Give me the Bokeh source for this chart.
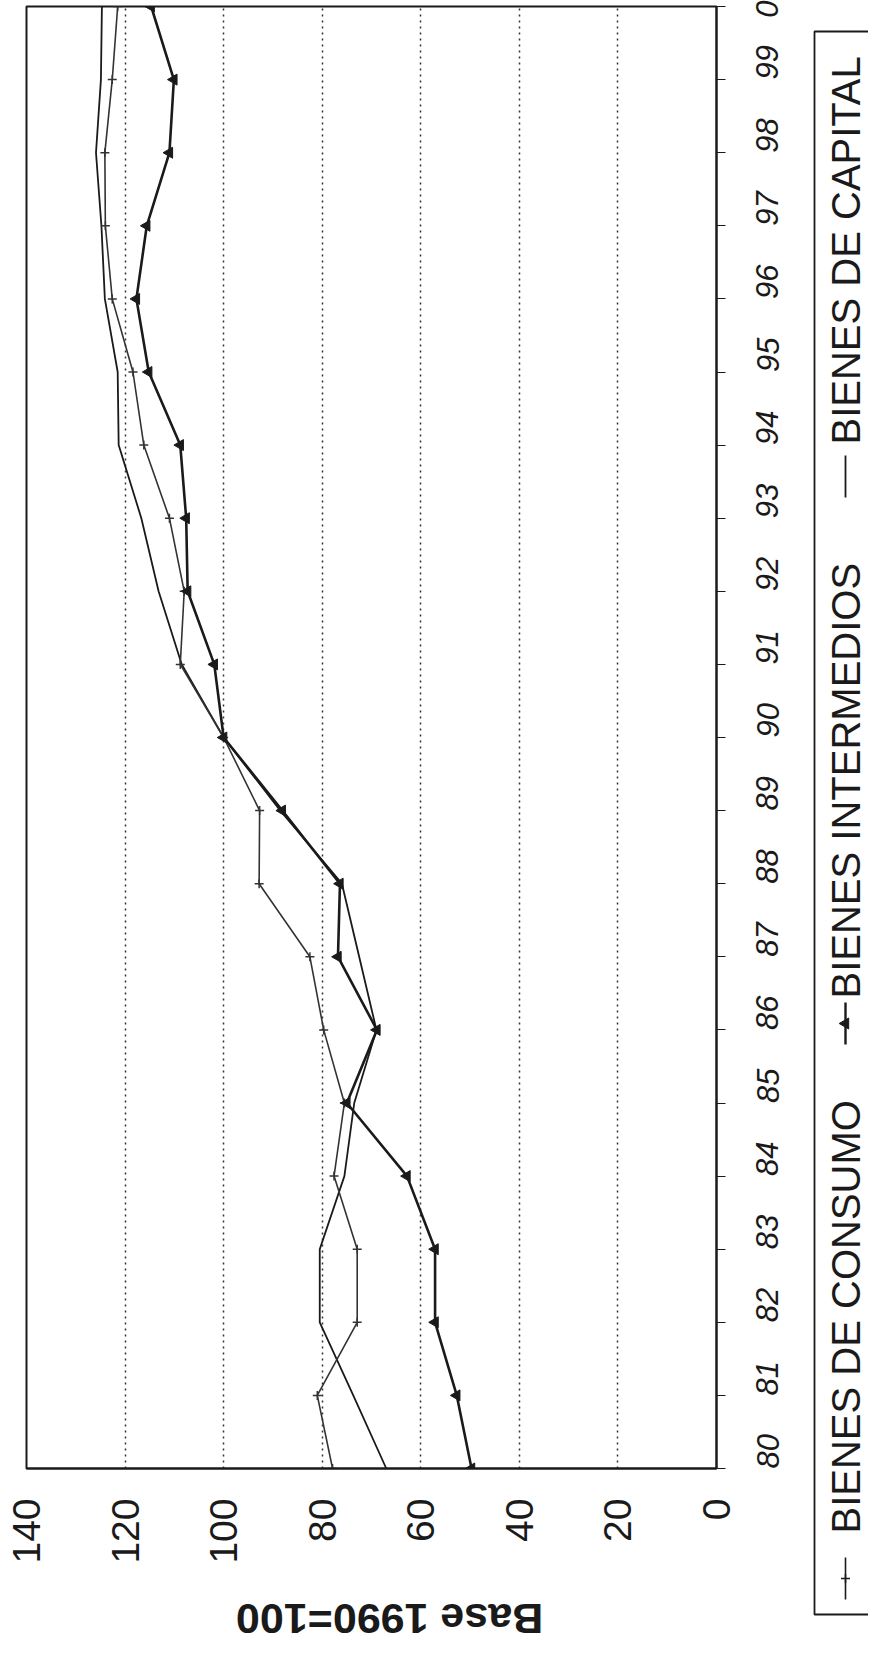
import math
from bokeh.plotting import figure
from bokeh.models import Range1d, FixedTicker, LinearAxis, ColumnDataSource
from bokeh.layouts import row
from bokeh.embed import file_html
from bokeh.resources import INLINE
from bokeh.core.properties import value

# ---- data ----
years = list(range(1980, 2001))
year_labels = ["80", "81", "82", "83", "84", "85", "86", "87", "88", "89",
               "90", "91", "92", "93", "94", "95", "96", "97", "98", "99", "0"]
consumo = [77.9, 81.0, 72.9, 72.9, 77.6, 75.5, 79.7, 82.5, 92.8, 92.7, 100.0,
           108.8, 108.0, 111.0, 116.2, 118.4, 122.6, 124.0, 124.1, 122.6, 121.5]
intermedios = [49.7, 52.7, 57.1, 57.1, 62.8, 75.0, 68.9, 76.8, 76.4, 88.1, 100.0,
               101.9, 107.3, 107.6, 108.8, 115.2, 117.7, 115.6, 111.0, 110.1, 114.7]
capital = [67.0, 73.7, 80.5, 80.5, 75.5, 73.5, 69.0, 72.5, 76.0, 88.5, 100.0,
           108.5, 113.2, 116.7, 121.3, 121.5, 124.1, 124.8, 125.9, 124.9, 124.7]
value_ticks = [0, 20, 40, 60, 80, 100, 120, 140]
series_names = ["BIENES DE CONSUMO", "BIENES INTERMEDIOS", "BIENES DE CAPITAL"]
axis_title = "Base 1990=100"

FONT = "Liberation Sans"
INK = "#1a1a1a"

src = ColumnDataSource(dict(year=years, consumo=consumo,
                            intermedios=intermedios, capital=capital))

p = figure(frame_width=690, frame_height=1462,
           x_range=Range1d(140, 0), y_range=Range1d(1980, 2000),
           y_axis_location="right", output_backend="svg", toolbar_location=None,
           min_border_left=26, min_border_right=84,
           min_border_top=6, min_border_bottom=170)
p.background_fill_color = "white"
p.border_fill_color = "white"
p.outline_line_color = INK
p.outline_line_width = 2

# value axis (bottom)
p.xaxis.ticker = FixedTicker(ticks=value_ticks)
p.xaxis.major_label_orientation = math.pi / 2
p.xaxis.major_label_text_font = FONT
p.xaxis.major_label_text_font_size = "39px"
p.xaxis.major_label_text_color = INK
p.xaxis.major_label_standoff = 30
p.xaxis.major_tick_out = 0
p.xaxis.major_tick_in = 0
p.xaxis.minor_tick_out = 0
p.xaxis.minor_tick_in = 0
p.xaxis.axis_line_width = 2
p.xaxis.axis_line_color = INK

# axis title, drawn upside down as in the scan
p.extra_x_ranges = {"title": Range1d(140, 0)}
title_at = 97.5
tax = LinearAxis(x_range_name="title", ticker=FixedTicker(ticks=[title_at]),
                 major_label_overrides={title_at: axis_title},
                 major_label_orientation=math.pi,
                 major_label_text_font=FONT,
                 major_label_text_font_size="43px",
                 major_label_text_font_style="bold",
                 major_label_text_color=INK,
                 major_label_standoff=46,
                 axis_line_color=None, major_tick_line_color=None,
                 minor_tick_line_color=None)
p.add_layout(tax, "below")

# year axis (right)
p.yaxis.ticker = FixedTicker(ticks=years)
p.yaxis.major_label_overrides = {y: lab for y, lab in zip(years, year_labels)}
p.yaxis.major_label_orientation = math.pi / 2
p.yaxis.major_label_text_font = FONT
p.yaxis.major_label_text_font_style = "italic"
p.yaxis.major_label_text_font_size = "31px"
p.yaxis.major_label_text_color = INK
p.yaxis.major_label_standoff = 42
p.yaxis.major_tick_out = 9
p.yaxis.major_tick_in = 0
p.yaxis.minor_tick_out = 0
p.yaxis.minor_tick_in = 0
p.yaxis.axis_line_width = 2
p.yaxis.axis_line_color = INK
p.yaxis.major_tick_line_color = INK

p.xgrid.ticker = FixedTicker(ticks=value_ticks)
p.xgrid.grid_line_color = "#333333"
p.xgrid.grid_line_dash = "2 4"
p.xgrid.grid_line_width = 1.5
p.ygrid.grid_line_color = None

# series
p.line(x="capital", y="year", source=src, line_color=INK, line_width=1.8)
p.line(x="consumo", y="year", source=src, line_color="#333333", line_width=1.6)
p.scatter(x="consumo", y="year", source=src, marker="cross", size=9,
          line_color="#333333", line_width=1.5)
p.line(x="intermedios", y="year", source=src, line_color=INK, line_width=2.6)
p.scatter(x="intermedios", y="year", source=src, marker="triangle", size=11,
          angle=math.pi / 2, fill_color=INK, line_color=INK)

# ---- legend panel ----
lg = figure(frame_width=68, frame_height=1638, x_range=Range1d(808, 876),
            y_range=Range1d(1646, 8), min_border=0,
            output_backend="svg", toolbar_location=None)
lg.axis.visible = False
lg.grid.visible = False
lg.outline_line_color = None
lg.background_fill_color = "white"
lg.border_fill_color = "white"

lg.quad(left=[822], right=[900], top=[33], bottom=[1616],
        fill_color=None, line_color=INK, line_width=1.8)

cx = 853
sym_c = [1580, 1025, 478]
txt_s = [1535, 1000, 446]
lg.segment(x0=[cx] * 3, y0=[c + 21 for c in sym_c], x1=[cx] * 3,
           y1=[c - 21 for c in sym_c], line_color=INK,
           line_width=[1.6, 2.4, 1.8])
lg.scatter(x=[cx], y=[sym_c[0]], marker="cross", size=9, line_color=INK,
           line_width=1.5)
lg.scatter(x=[cx], y=[sym_c[1]], marker="triangle", size=11,
           angle=math.pi / 2, fill_color=INK, line_color=INK)
lg.text(x=[cx] * 3, y=txt_s, text=series_names, angle=math.pi / 2,
        text_align="left", text_baseline="middle",
        text_font=value(FONT), text_font_size="40px", text_color=INK)

layout = row(p, lg)
open("out.html", "w").write(file_html(layout, INLINE))
